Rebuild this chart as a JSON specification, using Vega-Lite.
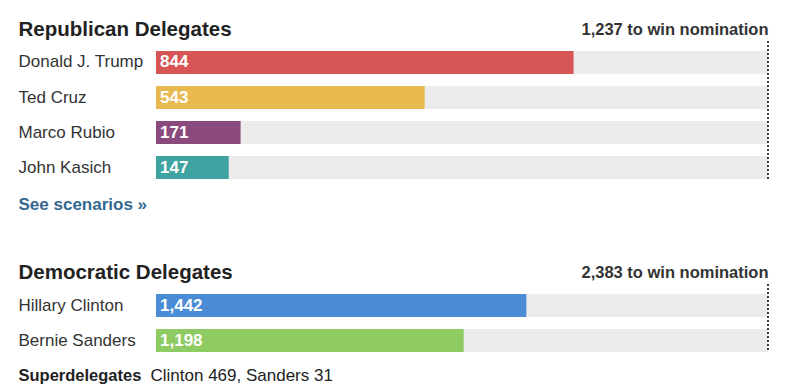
{
  "$schema": "https://vega.github.io/schema/vega-lite/v6.json",
  "background": "white",
  "padding": {"left": 18, "top": 19, "right": 0, "bottom": 0},
  "spacing": 50,
  "config": {
    "view": {"stroke": null},
    "font": "Liberation Sans",
    "axis": {"labelFont": "Liberation Sans", "titleFont": "Liberation Sans"}
  },
  "resolve": {"scale": {"color": "independent"}},
  "vconcat": [
    {
      "width": 612,
      "height": 138,
      "data": {"values": [
        {"candidate": "Donald J. Trump", "delegates": 844},
        {"candidate": "Ted Cruz", "delegates": 543},
        {"candidate": "Marco Rubio", "delegates": 171},
        {"candidate": "John Kasich", "delegates": 147}
      ]},
      "resolve": {"axis": {"x": "independent"}},
      "layer": [
        {
          "mark": {"type": "bar", "color": "#ececec"},
          "encoding": {
            "y": {
              "field": "candidate", "type": "nominal", "sort": null,
              "scale": {"paddingInner": 0.342857, "paddingOuter": 0.142857, "align": 1},
              "axis": {"title": null, "labelAlign": "left", "labelPadding": 138, "ticks": false, "tickSize": 0, "domain": false, "labelFontSize": 17, "labelColor": "#333", "labelLimit": 200}
            },
            "x": {
              "datum": 1237, "type": "quantitative",
              "scale": {"domain": [0, 1237], "nice": false, "zero": true},
              "axis": {
                "orient": "top", "values": [1237],
                "labelExpr": "format(datum.value, ',') + ' to win nomination'",
                "labelAlign": "right", "labelBaseline": "alphabetic", "labelPadding": 7, "labelFlush": false, "labelLimit": 300,
                "labelFontSize": 16.5, "labelFontWeight": "bold", "labelColor": "#333",
                "ticks": false, "tickSize": 0, "domain": false, "grid": false,
                "title": "Republican Delegates", "titleX": -138, "titleY": -6, "titleAlign": "left", "titleBaseline": "alphabetic", "titleAngle": 0,
                "titleFontSize": 20.5, "titleFontWeight": "bold", "titleColor": "#222"
              }
            }
          }
        },
        {
          "mark": {"type": "bar"},
          "encoding": {
            "y": {"field": "candidate", "type": "nominal", "sort": null},
            "x": {
              "field": "delegates", "type": "quantitative",
              "axis": {
                "orient": "bottom", "labels": false, "ticks": false, "domain": false, "grid": false,
                "title": "See scenarios »", "titleX": -138, "titleY": 30, "titleAlign": "left", "titleBaseline": "alphabetic", "titleAngle": 0,
                "titleFontSize": 17, "titleFontWeight": "bold", "titleColor": "#326891"
              }
            },
            "color": {
              "field": "candidate", "type": "nominal", "legend": null,
              "scale": {"domain": ["Donald J. Trump", "Ted Cruz", "Marco Rubio", "John Kasich"], "range": ["#d75555", "#e8b94f", "#8a4a7e", "#3fa3a1"]}
            }
          }
        },
        {
          "mark": {"type": "text", "align": "left", "baseline": "middle", "dx": 4, "color": "white", "fontWeight": "bold", "fontSize": 17},
          "encoding": {
            "y": {"field": "candidate", "type": "nominal", "sort": null},
            "x": {"datum": 0, "type": "quantitative", "axis": null},
            "text": {"field": "delegates", "type": "quantitative", "format": ","}
          }
        },
        {
          "data": {"values": [{"threshold": 1237}]},
          "mark": {"type": "rule", "color": "#000", "strokeWidth": 1.5, "strokeDash": [2, 2]},
          "encoding": {
            "x": {"field": "threshold", "type": "quantitative", "axis": null}
          }
        }
      ]
    },
    {
      "width": 612,
      "height": 68,
      "data": {"values": [
        {"candidate": "Hillary Clinton", "delegates": 1442},
        {"candidate": "Bernie Sanders", "delegates": 1198}
      ]},
      "resolve": {"axis": {"x": "independent"}},
      "layer": [
        {
          "mark": {"type": "bar", "color": "#ececec"},
          "encoding": {
            "y": {
              "field": "candidate", "type": "nominal", "sort": null,
              "scale": {"paddingInner": 0.342857, "paddingOuter": 0.142857, "align": 1},
              "axis": {"title": null, "labelAlign": "left", "labelPadding": 138, "ticks": false, "tickSize": 0, "domain": false, "labelFontSize": 17, "labelColor": "#333", "labelLimit": 200}
            },
            "x": {
              "datum": 2383, "type": "quantitative",
              "scale": {"domain": [0, 2383], "nice": false, "zero": true},
              "axis": {
                "orient": "top", "values": [2383],
                "labelExpr": "format(datum.value, ',') + ' to win nomination'",
                "labelAlign": "right", "labelBaseline": "alphabetic", "labelPadding": 7, "labelFlush": false, "labelLimit": 300,
                "labelFontSize": 16.5, "labelFontWeight": "bold", "labelColor": "#333",
                "ticks": false, "tickSize": 0, "domain": false, "grid": false,
                "title": "Democratic Delegates", "titleX": -138, "titleY": -6, "titleAlign": "left", "titleBaseline": "alphabetic", "titleAngle": 0,
                "titleFontSize": 20.5, "titleFontWeight": "bold", "titleColor": "#222"
              }
            }
          }
        },
        {
          "mark": {"type": "bar"},
          "encoding": {
            "y": {"field": "candidate", "type": "nominal", "sort": null},
            "x": {
              "field": "delegates", "type": "quantitative",
              "axis": {
                "orient": "bottom", "values": [0],
                "labelExpr": "'Clinton 469, Sanders 31'",
                "labelAlign": "left", "labelBaseline": "alphabetic", "labelOffset": -6, "labelPadding": 28, "labelFlush": false, "labelLimit": 300,
                "labelFontSize": 17, "labelColor": "#222",
                "ticks": false, "tickSize": 0, "domain": false, "grid": false,
                "title": "Superdelegates", "titleX": -138, "titleY": 28, "titleAlign": "left", "titleBaseline": "alphabetic", "titleAngle": 0,
                "titleFontSize": 16.5, "titleFontWeight": "bold", "titleColor": "#222"
              }
            },
            "color": {
              "field": "candidate", "type": "nominal", "legend": null,
              "scale": {"domain": ["Hillary Clinton", "Bernie Sanders"], "range": ["#4a8cd6", "#8fcb63"]}
            }
          }
        },
        {
          "mark": {"type": "text", "align": "left", "baseline": "middle", "dx": 4, "color": "white", "fontWeight": "bold", "fontSize": 17},
          "encoding": {
            "y": {"field": "candidate", "type": "nominal", "sort": null},
            "x": {"datum": 0, "type": "quantitative", "axis": null},
            "text": {"field": "delegates", "type": "quantitative", "format": ","}
          }
        },
        {
          "data": {"values": [{"threshold": 2383}]},
          "mark": {"type": "rule", "color": "#000", "strokeWidth": 1.5, "strokeDash": [2, 2]},
          "encoding": {
            "x": {"field": "threshold", "type": "quantitative", "axis": null}
          }
        }
      ]
    }
  ]
}
